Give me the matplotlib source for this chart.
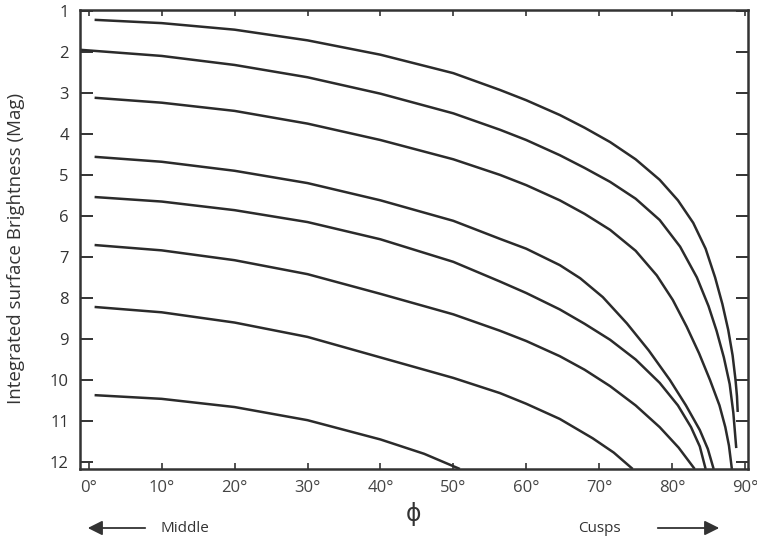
import matplotlib
matplotlib.use("Agg")
import matplotlib.pyplot as plt

plt.rcParams["font.family"] = ["Open Sans", "DejaVu Sans"]

# ---- data (phi in degrees, brightness in mag) ----
phi_1 = [0.8, 10, 20, 30, 40, 50, 56.4, 60, 64.6, 68, 71.5, 75, 78.3, 80.8, 82.9, 84.6, 85.9, 86.9, 87.7, 88.3, 88.7, 88.9, 89.0]
mag_1 = [1.22, 1.30, 1.46, 1.72, 2.07, 2.52, 2.93, 3.18, 3.54, 3.85, 4.20, 4.62, 5.12, 5.62, 6.17, 6.80, 7.50, 8.15, 8.78, 9.40, 10.00, 10.40, 10.78]

phi_2 = [-1.2, 10, 20, 30, 40, 50, 56.4, 60, 64.6, 68, 71.5, 75, 78.3, 81.1, 83.4, 85.0, 86.1, 87.1, 87.9, 88.4, 88.8]
mag_2 = [1.95, 2.10, 2.32, 2.62, 3.02, 3.50, 3.90, 4.15, 4.52, 4.83, 5.17, 5.58, 6.10, 6.75, 7.50, 8.20, 8.80, 9.45, 10.10, 10.80, 11.66]

phi_3 = [0.8, 10, 20, 30, 40, 50, 56.4, 60, 64.6, 68, 71.5, 75, 77.9, 80.1, 82.0, 83.7, 85.2, 86.5, 87.3, 87.8, 88.2]
mag_3 = [3.12, 3.24, 3.44, 3.75, 4.15, 4.62, 5.00, 5.25, 5.62, 5.95, 6.34, 6.85, 7.45, 8.05, 8.70, 9.35, 10.00, 10.62, 11.15, 11.60, 12.17]

phi_4 = [0.8, 10, 20, 30, 40, 50, 56.4, 60, 64.6, 67.4, 70.5, 73.8, 76.8, 79.7, 81.9, 83.8, 84.9, 85.7]
mag_4 = [4.56, 4.68, 4.90, 5.20, 5.62, 6.12, 6.56, 6.80, 7.20, 7.52, 7.98, 8.62, 9.28, 10.00, 10.62, 11.22, 11.68, 12.17]

phi_5 = [0.8, 10, 20, 30, 40, 50, 56.4, 60, 64.6, 68, 71.5, 75, 78.3, 80.8, 82.6, 83.8, 84.6]
mag_5 = [5.54, 5.65, 5.86, 6.15, 6.57, 7.12, 7.60, 7.88, 8.28, 8.63, 9.02, 9.50, 10.07, 10.62, 11.15, 11.62, 12.17]

phi_6 = [0.8, 10, 20, 30, 40, 50, 56.4, 60, 64.6, 68, 71.5, 75, 78.3, 80.9, 83.1]
mag_6 = [6.71, 6.84, 7.08, 7.42, 7.90, 8.40, 8.80, 9.05, 9.42, 9.75, 10.15, 10.62, 11.15, 11.65, 12.17]

phi_7 = [0.8, 10, 20, 30, 40, 50, 56.4, 60, 64.6, 69.1, 72, 74.6]
mag_7 = [8.22, 8.35, 8.60, 8.95, 9.45, 9.95, 10.32, 10.58, 10.95, 11.42, 11.77, 12.17]

phi_8 = [0.8, 10, 20, 30, 40, 46, 50.9]
mag_8 = [10.37, 10.46, 10.66, 10.98, 11.45, 11.80, 12.17]

x_ticks = [0, 10, 20, 30, 40, 50, 60, 70, 80, 90]
x_labels = ["0°", "10°", "20°", "30°", "40°", "50°", "60°", "70°", "80°", "90°"]
y_ticks = list(range(1, 13))

# ---- plot ----
fig = plt.figure(figsize=(7.57, 5.40), dpi=100)
ax = fig.add_axes([0.1057, 0.1315, 0.8823, 0.85])

curves = [(phi_1, mag_1), (phi_2, mag_2), (phi_3, mag_3), (phi_4, mag_4),
          (phi_5, mag_5), (phi_6, mag_6), (phi_7, mag_7), (phi_8, mag_8)]
for p, m in curves:
    ax.plot(p, m, color="#2b2b2b", lw=1.8, solid_capstyle="butt", solid_joinstyle="round")

ax.set_xlim(-1.2, 90.4)
ax.set_ylim(12.17, 0.98)

ax.set_xticks(x_ticks)
ax.set_xticklabels(x_labels)
ax.set_yticks(y_ticks)

ax.tick_params(axis="x", direction="in", length=4, width=1.2, top=True,
               labelsize=12, pad=8, colors="#333333", labelcolor="#444444")
ax.tick_params(axis="y", direction="in", length=9, width=1.4, right=True,
               labelsize=12, pad=8, colors="#333333", labelcolor="#333333")

for s in ax.spines.values():
    s.set_linewidth(1.8)
    s.set_color("#333333")

ax.set_ylabel("Integrated surface Brightness (Mag)", fontsize=13.5, color="#333333")
ax.yaxis.set_label_coords(-0.082, 0.48)
ax.set_xlabel("\u03d5", fontsize=17, color="#333333", labelpad=5)

# direction hints under the axis
ax.annotate("", xy=(85 / 757, 1 - 528 / 540), xytext=(148 / 757, 1 - 528 / 540),
            xycoords="figure fraction", textcoords="figure fraction",
            arrowprops=dict(arrowstyle="-|>", color="#333333", lw=1.3, mutation_scale=22))
fig.text(160 / 757, 1 - 528 / 540, "Middle", fontsize=11, color="#333333", va="center", ha="left")

ax.annotate("", xy=(722 / 757, 1 - 528 / 540), xytext=(655 / 757, 1 - 528 / 540),
            xycoords="figure fraction", textcoords="figure fraction",
            arrowprops=dict(arrowstyle="-|>", color="#333333", lw=1.3, mutation_scale=22))
fig.text(578 / 757, 1 - 528 / 540, "Cusps", fontsize=11, color="#333333", va="center", ha="left")

fig.savefig("out.png", dpi=100)
